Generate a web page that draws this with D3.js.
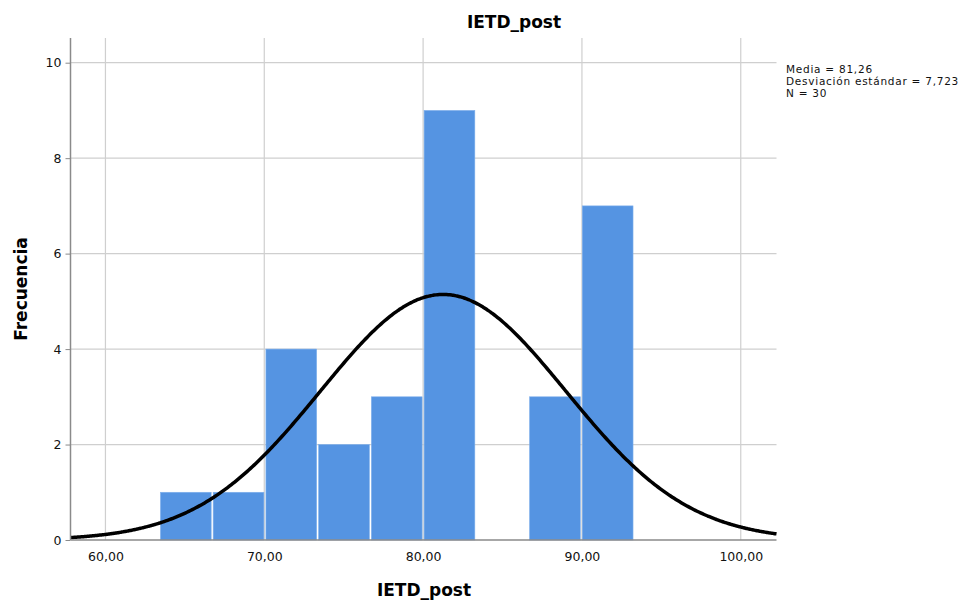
<!DOCTYPE html>
<html><head><meta charset="utf-8">
<script src="https://cdn.jsdelivr.net/npm/d3@7"></script>
<style>body{margin:0;background:#fff;}</style>
</head><body>
<svg id="c" width="980" height="600"></svg>
<script>
// Data
const binEdges = [63.4, 66.72, 70.04, 73.36, 76.68, 80.0, 83.32, 86.64, 89.96, 93.28];
const counts = [1, 1, 4, 2, 3, 9, 0, 3, 7];
const xTicks = [60, 70, 80, 90, 100];
const yTicks = [0, 2, 4, 6, 8, 10];
const mean = 81.26, sd = 7.723, n = 30;
const statsLines = ["Media = 81,26", "Desviación estándar = 7,723", "N = 30"];
const titleText = "IETD_post", xLabel = "IETD_post", yLabel = "Frecuencia";

const svg = d3.select("#c");
const L = 70.5, R = 776.5, T = 38, B = 540;
const x = d3.scaleLinear().domain([57.8, 102.25]).range([L, R]);
const y = d3.scaleLinear().domain([0, 10]).range([B, 62.7]);
const fmt = d => d.toFixed(2).replace(".", ",");
const font = "DejaVu Sans, Verdana, sans-serif";

// gridlines
const g = svg.append("g");
g.selectAll(".vg").data(xTicks).join("line")
  .attr("x1", d => x(d)).attr("x2", d => x(d)).attr("y1", T).attr("y2", B)
  .attr("stroke", "#cfcfcf").attr("stroke-width", 1.2);
g.selectAll(".hg").data(yTicks.filter(d => d > 0)).join("line")
  .attr("x1", L).attr("x2", R).attr("y1", d => y(d)).attr("y2", d => y(d))
  .attr("stroke", "#cfcfcf").attr("stroke-width", 1.2);

// bars
const bins = counts.map((c, i) => ({x0: binEdges[i], x1: binEdges[i + 1], c}));
svg.append("g").selectAll("rect").data(bins.filter(b => b.c > 0)).join("rect")
  .attr("x", d => x(d.x0) + 1).attr("width", d => x(d.x1) - x(d.x0) - 2)
  .attr("y", d => y(d.c)).attr("height", d => y(0) - y(d.c))
  .attr("fill", "#5594E2").attr("stroke", "#7fb0ec").attr("stroke-width", 0.6);

// normal curve
const bw = binEdges[1] - binEdges[0];
const pts = d3.range(0, 401).map(i => {
  const xv = 57.8 + (102.25 - 57.8) * i / 400;
  const yv = n * bw * Math.exp(-0.5 * ((xv - mean) / sd) ** 2) / (sd * Math.sqrt(2 * Math.PI));
  return [xv, yv];
});
svg.append("path").datum(pts)
  .attr("d", d3.line().x(d => x(d[0])).y(d => y(d[1])).curve(d3.curveBasis))
  .attr("fill", "none").attr("stroke", "#000").attr("stroke-width", 3.5);

// axes
const xa = svg.append("g").attr("transform", `translate(0,${B})`)
  .call(d3.axisBottom(x).tickValues(xTicks).tickFormat(fmt).tickSize(0).tickPadding(12));
const ya = svg.append("g").attr("transform", `translate(${L},0)`)
  .call(d3.axisLeft(y).tickValues(yTicks).tickFormat(d => d).tickSize(5).tickPadding(4));
[xa, ya].forEach(a => {
  a.select(".domain").attr("stroke", "#8a8a8a").attr("stroke-width", 1.5);
  a.selectAll("text").attr("font-family", font).attr("font-size", 12.5).attr("fill", "#111");
  a.selectAll(".tick line").attr("stroke", "#8a8a8a");
});
ya.select(".domain").attr("d", `M0,${T}V${B}`);
xa.select(".domain").attr("d", `M${L},0H${R}`);

// titles
svg.append("text").attr("x", 514).attr("y", 28).attr("text-anchor", "middle")
  .attr("font-family", font).attr("font-weight", "bold").attr("font-size", 17).text(titleText);
svg.append("text").attr("x", 424).attr("y", 596).attr("text-anchor", "middle")
  .attr("font-family", font).attr("font-weight", "bold").attr("font-size", 17).text(xLabel);
svg.append("text").attr("transform", "translate(27,289) rotate(-90)").attr("text-anchor", "middle")
  .attr("font-family", font).attr("font-weight", "bold").attr("font-size", 17).text(yLabel);

// stats
svg.append("g").selectAll("text").data(statsLines).join("text")
  .attr("x", 786).attr("y", (d, i) => 72.5 + i * 12.3)
  .attr("font-family", font).attr("font-size", 10.5).attr("letter-spacing", 0.75)
  .attr("fill", "#111").text(d => d);
</script>
</body></html>
